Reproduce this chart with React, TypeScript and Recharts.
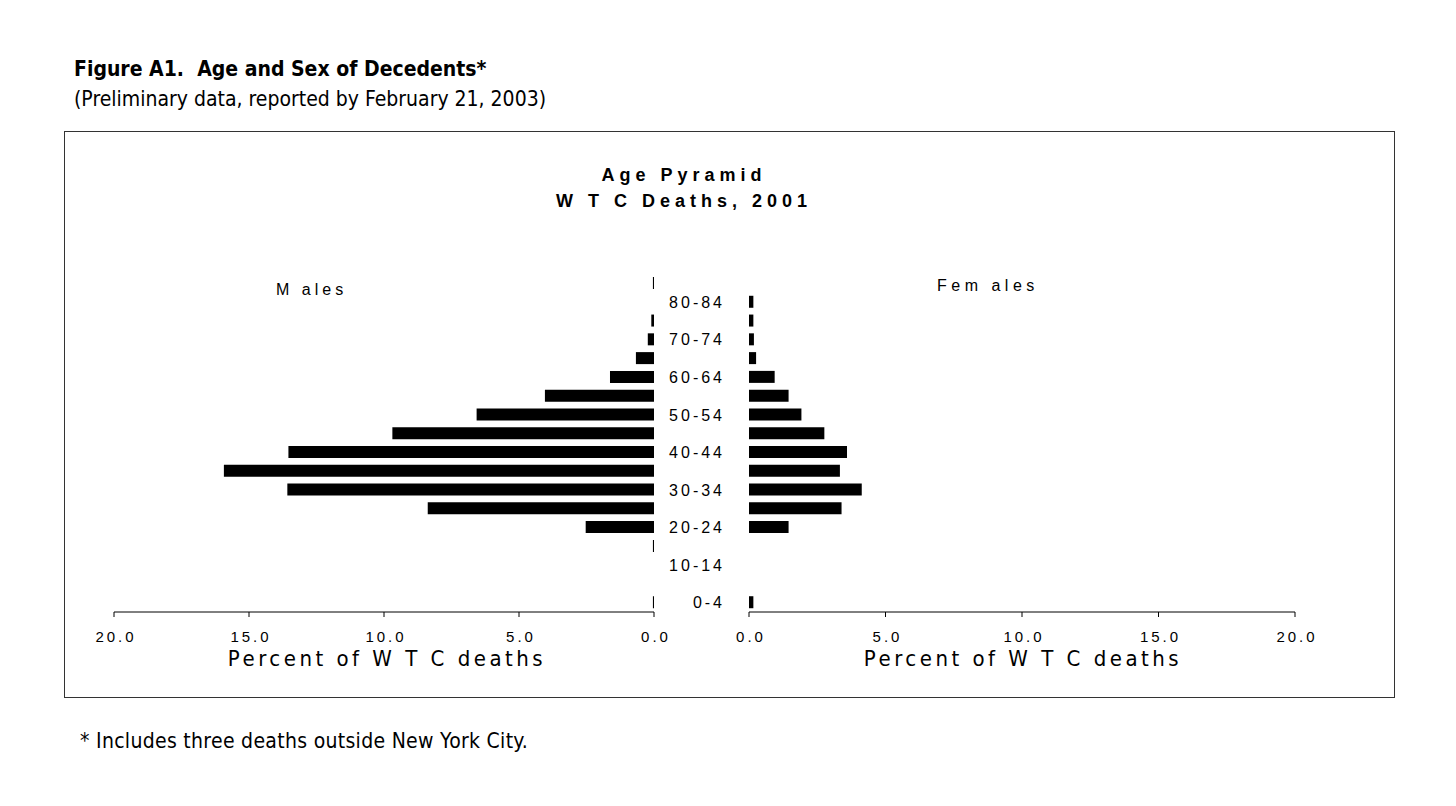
import React from 'react';
import { BarChart, Bar, XAxis, YAxis } from 'recharts';

// age groups, bottom (0-4) to top (85+)
const ages = [
  '0-4', '5-9', '10-14', '15-19', '20-24', '25-29', '30-34', '35-39', '40-44',
  '45-49', '50-54', '55-59', '60-64', '65-69', '70-74', '75-79', '80-84', '85+',
];
const malePct = [0.04, 0, 0, 0.04, 2.53, 8.38, 13.58, 15.93, 13.54, 9.69, 6.57, 4.04, 1.63, 0.67, 0.23, 0.1, 0, 0.04];
const femalePct = [0.16, 0, 0, 0, 1.45, 3.39, 4.13, 3.33, 3.59, 2.76, 1.92, 1.45, 0.94, 0.26, 0.18, 0.16, 0.16, 0];
const ageTicks = ['0-4', '10-14', '20-24', '30-34', '40-44', '50-54', '60-64', '70-74', '80-84'];
const pctTicks = [0, 5, 10, 15, 20];

const rows = ages.map((age, i) => ({ age, male: malePct[i], female: femalePct[i] }));

const NARROW = '"Liberation Sans Narrow", "DejaVu Sans Condensed", Arial, sans-serif';
const SANS = '"Liberation Sans", Arial, sans-serif';

const PctTick = (props: any) => {
  const { x, y, payload } = props;
  return (
    <text x={x + 2} y={y} dy="0.71em" textAnchor="middle" fontSize={15} fontFamily={SANS}
      fill="#000" style={{ letterSpacing: 3 }}>
      {Number(payload.value).toFixed(1)}
    </text>
  );
};

const AgeTick = (props: any) => {
  const { x, y, payload } = props;
  if (!ageTicks.includes(payload.value)) return null;
  return (
    <text x={x + 3} y={y} dy="0.36em" textAnchor="end" fontSize={16} fontFamily={SANS}
      fill="#000" style={{ letterSpacing: 3 }}>
      {payload.value}
    </text>
  );
};

const axisTitle: React.CSSProperties = {
  position: 'absolute',
  fontFamily: NARROW,
  fontSize: 22,
  letterSpacing: 3.5,
  whiteSpace: 'nowrap',
  transform: 'translateX(-50%)',
  lineHeight: 1,
};

export default function App() {
  return (
    <div style={{ position: 'absolute', left: 0, top: 0, width: 1456, height: 806, background: '#fff', color: '#000' }}>
      <div style={{ position: 'absolute', left: 74, top: 57, fontFamily: NARROW, fontWeight: 'bold', fontSize: 21, whiteSpace: 'pre' }}>
        {'Figure A1.  Age and Sex of Decedents*'}
      </div>
      <div style={{ position: 'absolute', left: 74, top: 87, fontFamily: NARROW, fontSize: 21, whiteSpace: 'pre' }}>
        (Preliminary data, reported by February 21, 2003)
      </div>

      <div style={{ position: 'absolute', left: 64, top: 131, width: 1329, height: 565, border: '1px solid #333' }} />

      <div style={{ position: 'absolute', left: 684, top: 162, transform: 'translateX(-50%)', textAlign: 'center',
        fontFamily: SANS, fontWeight: 'bold', fontSize: 18, letterSpacing: 5, lineHeight: '26px', whiteSpace: 'pre' }}>
        {'Age Pyramid\nW T C Deaths, 2001'}
      </div>

      <div style={{ position: 'absolute', left: 276, top: 281, fontFamily: SANS, fontSize: 16, letterSpacing: 4 }}>M ales</div>
      <div style={{ position: 'absolute', left: 937, top: 277, fontFamily: SANS, fontSize: 16, letterSpacing: 4.5 }}>Fem ales</div>

      <div style={{ position: 'absolute', left: 654, top: 260 }}>
        <BarChart layout="vertical" data={rows} width={680} height={400}
          margin={{ top: 14, right: 39, left: 0, bottom: 18 }}>
          <XAxis type="number" domain={[0, 20]} ticks={pctTicks} allowDataOverflow interval={0}
            height={30} stroke="#000" tickSize={5} tickMargin={14} tick={<PctTick />} />
          <YAxis type="category" dataKey="age" reversed width={95} axisLine={false} tickLine={false}
            tickMargin={21} interval={0} tick={<AgeTick />} />
          <Bar dataKey="female" fill="#000" barSize={12} isAnimationActive={false} />
        </BarChart>
      </div>

      <div style={{ position: 'absolute', left: 70, top: 260 }}>
        <BarChart layout="vertical" data={rows} width={614} height={400}
          margin={{ top: 14, right: 30, left: 44, bottom: 18 }}>
          <XAxis type="number" domain={[0, 20]} ticks={pctTicks} reversed allowDataOverflow interval={0}
            height={30} stroke="#000" tickSize={5} tickMargin={14} tick={<PctTick />} />
          <YAxis type="category" dataKey="age" reversed hide />
          <Bar dataKey="male" fill="#000" barSize={12} isAnimationActive={false} />
        </BarChart>
      </div>

      <div style={{ ...axisTitle, left: 387, top: 648 }}>Percent of W T C deaths</div>
      <div style={{ ...axisTitle, left: 1023, top: 648 }}>Percent of W T C deaths</div>

      <div style={{ position: 'absolute', left: 80, top: 729, fontFamily: NARROW, fontSize: 21, letterSpacing: 0.3, whiteSpace: 'pre' }}>
        * Includes three deaths outside New York City.
      </div>
    </div>
  );
}
